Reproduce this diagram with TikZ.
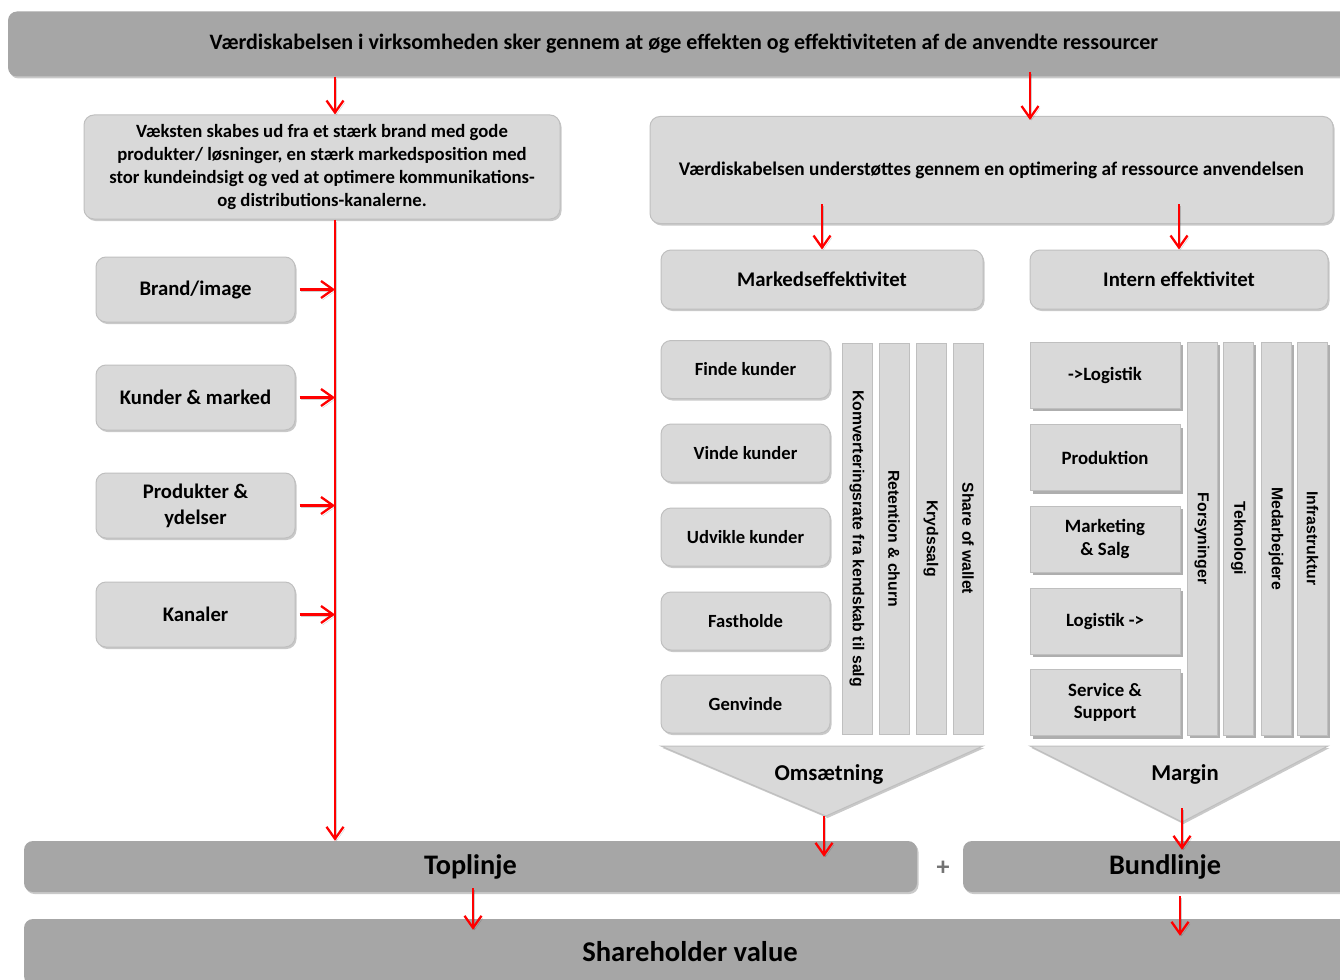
\documentclass[tikz,border=0pt]{standalone}
\usepackage{fontspec}
\setmainfont{Carlito}
\newfontfamily\barfont{Liberation Sans}
\usepackage{tikz}
\usetikzlibrary{arrows.meta,calc,shadows}
\definecolor{band}{RGB}{166,166,166}
\definecolor{pale}{RGB}{217,217,217}
\definecolor{rim}{RGB}{191,191,191}

\begin{document}
\begin{tikzpicture}[x=1pt,y=-1pt,>={Straight Barb[length=12pt,width=17pt]},
  arr/.style={->,red,line width=2.3pt,
    preaction={draw=black,opacity=.18,transform canvas={shift={(1.5pt,-2pt)}}}},
  shade/.style={drop shadow={shadow xshift=1.5pt,shadow yshift=-2pt,opacity=.3,fill=black!70}},
  bar/.style={fill=band,rounded corners=9pt,inner sep=0pt,shade},
  box/.style={draw=rim,line width=1pt,fill=pale,rounded corners=10pt,align=center,inner sep=0pt,shade,
    font=\fontsize{18.7}{23}\selectfont\bfseries},
  side/.style={box,minimum width=199,minimum height=65,font=\fontsize{20.7}{26}\selectfont\bfseries},
  head/.style={box,minimum height=59,font=\fontsize{20.8}{24}\selectfont\bfseries},
  stagebox/.style={box,minimum width=169,minimum height=58,font=\fontsize{18.6}{22}\selectfont\bfseries},
  blk/.style={draw=rim,line width=1pt,fill=pale,align=center,inner sep=0pt,minimum width=150,minimum height=66,
    font=\fontsize{18.8}{22.5}\selectfont\bfseries,
    drop shadow={shadow xshift=2.5pt,shadow yshift=-3pt,opacity=.45,fill=black!70}},
  col/.style={draw=rim,line width=1pt,fill=pale,minimum width=30,inner sep=0pt},
  colsh/.style={col,drop shadow={shadow xshift=2.5pt,shadow yshift=-3pt,opacity=.45,fill=black!70}},
  coltext/.style={rotate=-90,font=\barfont\bfseries\fontsize{15.8}{18}\selectfont},
  tri/.style={draw=rim,line width=1pt,fill=pale,shade},
  tritext/.style={font=\fontsize{22.7}{26}\selectfont\bfseries}]
\path[use as bounding box] (0,0) rectangle (1340,979);
\clip (0,0) rectangle (1340,979);

% top and bottom bands
\node[bar,minimum width=1352,minimum height=65,font=\fontsize{22}{26}\selectfont\bfseries] (top) at (684,44)
  {Værdiskabelsen i virksomheden sker gennem at øge effekten og effektiviteten af de anvendte ressourcer};
\node[bar,minimum width=893,minimum height=51,font=\fontsize{28.3}{32}\selectfont\bfseries] (TL) at (470.5,866.5) {Toplinje};
\node[bar,minimum width=404,minimum height=51,font=\fontsize{28.3}{32}\selectfont\bfseries] (BL) at (1165,866.5) {Bundlinje};
\node[font=\fontsize{26}{30}\selectfont\bfseries,text=black!55] (plus) at (943,868) {+};
\node[bar,minimum width=1332,minimum height=66,font=\fontsize{28.6}{32}\selectfont\bfseries] (SV) at (690,952) {Shareholder value};

% left column
\node[box,minimum width=476,minimum height=104] (L) at (322,167)
  {Væksten skabes ud fra et stærk brand med gode\\produkter/ løsninger, en stærk markedsposition med\\stor kundeindsigt og ved at optimere kommunikations-\\og distributions-kanalerne.};
\node[side] (b1) at (195.5,289.5) {Brand/image};
\node[side] (b2) at (195.5,397.5) {Kunder \& marked};
\node[side] (b3) at (195.5,505.5) {Produkter \&\\ydelser};
\node[side] (b4) at (195.5,614.5) {Kanaler};
\coordinate (spine) at (335,0);

% right column
\node[box,minimum width=683,minimum height=107,font=\fontsize{19.3}{23}\selectfont\bfseries] (R) at (991.5,170)
  {Værdiskabelsen understøttes gennem en optimering af ressource anvendelsen};
\node[head,minimum width=322] (M) at (822,279.5) {Markedseffektivitet};
\node[head,minimum width=298] (I) at (1179,279.5) {Intern effektivitet};
\coordinate (rx) at (1030,0);

\node[stagebox] (m1) at (745.5,369.5) {Finde kunder};
\node[stagebox] (m2) at (745.5,453) {Vinde kunder};
\node[stagebox] (m3) at (745.5,537) {Udvikle kunder};
\node[stagebox] (m4) at (745.5,621) {Fastholde};
\node[stagebox] (m5) at (745.5,704) {Genvinde};
\node[col,minimum height=391] (k1) at (857,538.5) {};
\node[col,minimum height=391] (k2) at (894,538.5) {};
\node[col,minimum height=391] (k3) at (931,538.5) {};
\node[col,minimum height=391] (k4) at (968,538.5) {};
\node[coltext] at (k1) {Komverteringsrate fra kendskab til salg};
\node[coltext] at (k2) {Retention \& churn};
\node[coltext] at (k3) {Krydssalg};
\node[coltext] at (k4) {Share of wallet};

\node[blk] (i1) at (1105,375) {->Logistik};
\node[blk] (i2) at (1105,457.5) {Produktion};
\node[blk] (i3) at (1105,539) {Marketing\\\& Salg};
\node[blk] (i4) at (1105,621) {Logistik ->};
\node[blk] (i5) at (1105,702.5) {Service \&\\Support};
\node[colsh,minimum height=393] (n1) at (1202,538.5) {};
\node[colsh,minimum height=393] (n2) at (1238.5,538.5) {};
\node[colsh,minimum height=393] (n3) at (1276,538.5) {};
\node[colsh,minimum height=393] (n4) at (1312.5,538.5) {};
\node[coltext] at (n1) {Forsyninger};
\node[coltext] at (n2) {Teknologi};
\node[coltext] at (n3) {Medarbejdere};
\node[coltext] at (n4) {Infrastruktur};

% funnels
\coordinate (otip) at (826,816);
\coordinate (mtip) at (1182,822);
\draw[tri] (661,746) -- (983,746) -- (otip) -- cycle;
\draw[tri] (1030,746) -- (1328,746) -- (mtip) -- cycle;
\node[tritext] (om) at (829,774) {Omsætning};
\node[tritext] (mg) at (1185,774) {Margin};

% connectors
\draw[arr] (top.south -| spine) -- (L.north -| spine);
\draw[arr] ($(top.south -| rx)+(0,-5)$) -- ($(R.north -| rx)+(0,4)$);
\draw[arr] (L.south -| spine) -- (TL.north -| spine);
\foreach \b in {b1,b2,b3,b4} \draw[arr] ([xshift=4pt]\b.east) -- (\b.east -| spine);
\draw[arr] ($(R.south -| M.north)+(0,-20)$) -- (M.north);
\draw[arr] ($(R.south -| I.north)+(0,-20)$) -- (I.north);
\draw[arr] ($(otip)+(-2,0)$) -- ($(TL.north -| otip)+(-2,16)$);
\draw[arr] ($(mtip)+(0,-14)$) -- ($(BL.north -| mtip)+(0,9)$);
\draw[arr] ($(TL.south)+(2.5,-4)$) -- ($(SV.north -| TL.south)+(2.5,11)$);
\draw[arr] ($(BL.south -| mtip)+(-2,4)$) -- ($(SV.north -| mtip)+(-2,17)$);
\end{tikzpicture}
\end{document}
